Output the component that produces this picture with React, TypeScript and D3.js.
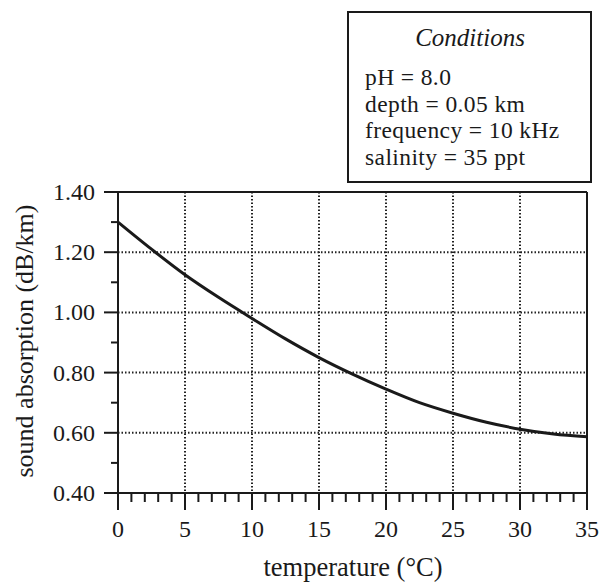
import React from "react";
import * as d3 from "d3";

const temperatures = [0, 2.5, 5, 7.5, 10, 12.5, 15, 17.5, 20, 22.5, 25, 27.5, 30, 32.5, 35];
const absorption = [1.3, 1.21, 1.125, 1.05, 0.98, 0.912, 0.85, 0.795, 0.745, 0.7, 0.665, 0.635, 0.612, 0.596, 0.587];
const xTicks = [0, 5, 10, 15, 20, 25, 30, 35];
const yTicks = [0.4, 0.6, 0.8, 1.0, 1.2, 1.4];
const yMinorTicks = [0.5, 0.7, 0.9, 1.1, 1.3];
const xMinorTicks = d3.range(0, 36, 1).filter((v) => v % 5 !== 0);
const conditionsTitle = "Conditions";
const conditionsLines = ["pH = 8.0", "depth = 0.05 km", "frequency = 10 kHz", "salinity = 35 ppt"];

const W = 602;
const H = 582;
const m = { left: 118, right: 587, top: 192, bottom: 493 };

export default function App() {
  const x = d3.scaleLinear().domain([0, 35]).range([m.left, m.right]);
  const y = d3.scaleLinear().domain([0.4, 1.4]).range([m.bottom, m.top]);
  const line = d3
    .line<number>()
    .x((_, i) => x(temperatures[i]))
    .y((d) => y(d))
    .curve(d3.curveCatmullRom.alpha(0.5));
  const ink = "#1a1a1a";
  const font = "'Liberation Serif', 'Times New Roman', serif";

  return (
    <div style={{ position: "absolute", left: 0, top: 0 }}>
      <svg width={W} height={H} style={{ display: "block", background: "#fff" }} fontFamily={font}>
        {/* grid */}
        {xTicks.slice(1, -1).map((t) => (
          <line key={"gx" + t} x1={x(t)} x2={x(t)} y1={m.top} y2={m.bottom} stroke="#222" strokeWidth={2} strokeDasharray="1.5,2" />
        ))}
        {yTicks.slice(1, -1).map((t) => (
          <line key={"gy" + t} x1={m.left} x2={m.right} y1={y(t)} y2={y(t)} stroke="#222" strokeWidth={2} strokeDasharray="1.5,2" />
        ))}
        {/* frame */}
        <line x1={m.left} x2={m.left} y1={m.top} y2={m.bottom} stroke={ink} strokeWidth={2} />
        <line x1={m.right} x2={m.right} y1={m.top} y2={m.bottom} stroke={ink} strokeWidth={2} />
        <line x1={m.left} x2={m.right} y1={m.top} y2={m.top} stroke={ink} strokeWidth={2} />
        <line x1={m.left} x2={m.right} y1={m.bottom} y2={m.bottom} stroke={ink} strokeWidth={2} />
        {/* y ticks */}
        {yTicks.map((t) => (
          <g key={"yt" + t}>
            <line x1={m.left - 14} x2={m.left} y1={y(t)} y2={y(t)} stroke={ink} strokeWidth={2} />
            <text x={95} y={y(t) + 8} textAnchor="end" fontSize={24} fill={ink}>
              {t.toFixed(2)}
            </text>
          </g>
        ))}
        {yMinorTicks.map((t) => (
          <line key={"ym" + t} x1={m.left - 7} x2={m.left} y1={y(t)} y2={y(t)} stroke={ink} strokeWidth={2} />
        ))}
        {/* x ticks */}
        {xTicks.map((t) => (
          <g key={"xt" + t}>
            <line x1={x(t)} x2={x(t)} y1={m.bottom} y2={m.bottom + 17} stroke={ink} strokeWidth={2} />
            <text x={x(t)} y={537} textAnchor="middle" fontSize={24} fill={ink}>
              {t}
            </text>
          </g>
        ))}
        {xMinorTicks.map((t) => (
          <line key={"xm" + t} x1={x(t)} x2={x(t)} y1={m.bottom} y2={m.bottom + 9} stroke={ink} strokeWidth={2} />
        ))}
        {/* curve */}
        <path d={line(absorption) || ""} fill="none" stroke={ink} strokeWidth={3} />
        {/* axis titles */}
        <text x={353} y={576} textAnchor="middle" fontSize={26.5} fill={ink}>
          temperature (°C)
        </text>
        <text transform="translate(33,341) rotate(-90)" textAnchor="middle" fontSize={26} fill={ink}>
          sound absorption (dB/km)
        </text>
        {/* conditions box */}
        <rect x={348} y={12} width={243} height={170} fill="#fff" stroke={ink} strokeWidth={2} />
        <text x={470} y={46} textAnchor="middle" fontSize={25} fontStyle="italic" fill={ink}>
          {conditionsTitle}
        </text>
        {conditionsLines.map((s, i) => (
          <text key={s} x={365} y={85 + i * 26.5} fontSize={23.5} letterSpacing={0.4} fill={ink}>
            {s}
          </text>
        ))}
      </svg>
    </div>
  );
}
